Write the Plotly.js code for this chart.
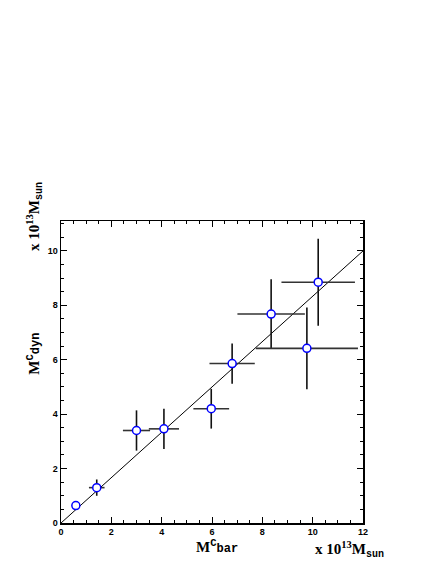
<!DOCTYPE html>
<html>
<head>
<meta charset="utf-8">
<script src="https://cdn.plot.ly/plotly-3.0.1.min.js"></script>
<style>html,body{margin:0;padding:0;background:#fff;}#chart{width:436px;height:564px;}</style>
</head>
<body>
<div id="chart"></div>
<script>
// Data (units of 10^13 M_sun)
var mBar    = [0.59, 1.42, 3.00, 4.09, 5.97, 6.80, 8.35, 9.77, 10.22];
var mBarErr = [0.00, 0.31, 0.54, 0.60, 0.71, 0.90, 1.34, 2.03, 1.46];
var mDyn    = [0.64, 1.30, 3.40, 3.46, 4.20, 5.86, 7.68, 6.42, 8.85];
var mDynErr = [0.00, 0.30, 0.74, 0.74, 0.73, 0.74, 1.28, 1.50, 1.60];
var lineX = [0, 12];
var lineY = [0, 10];

var traces = [
  {
    x: lineX, y: lineY, mode: 'lines', type: 'scatter',
    line: {color: '#000', width: 1}, hoverinfo: 'skip'
  },
  {
    x: mBar, y: mDyn, mode: 'markers', type: 'scatter',
    error_x: {type: 'data', array: mBarErr, visible: true, color: '#333', thickness: 1.6, width: 0},
    error_y: {type: 'data', array: mDynErr, visible: true, color: '#111', thickness: 1.6, width: 0},
    marker: {symbol: 'circle', size: 8, color: '#fff', line: {color: '#0000ff', width: 1.5}}
  }
];

var tickFont = {family: 'Liberation Sans, Arial, sans-serif', size: 9, color: '#000', weight: 'bold'};
var axisCommon = {
  showgrid: false, zeroline: false, showline: true, linecolor: '#000', linewidth: 1.5,
  mirror: 'allticks', ticks: 'inside', ticklen: 6, tickwidth: 1, tickcolor: '#000',
  tickfont: tickFont,
  minor: {dtick: 0.5, ticklen: 3, tickwidth: 1, tickcolor: '#000', ticks: 'inside', showgrid: false}
};

var serif = 'Liberation Serif, Times New Roman, serif';
var mono = 'Liberation Mono, Courier New, monospace';
var labFont = {family: serif, size: 15, color: '#000', weight: 'bold'};

var layout = {
  width: 436, height: 564,
  margin: {l: 61, r: 73, t: 221, b: 41, pad: 0},
  paper_bgcolor: '#fff', plot_bgcolor: '#fff',
  showlegend: false,
  xaxis: Object.assign({}, axisCommon, {range: [0, 12], dtick: 2, tick0: 0}),
  yaxis: Object.assign({}, axisCommon, {range: [0, 11.1], dtick: 2, tick0: 0}),
  annotations: [
    {
      text: '<b>M</b><sup><span style="font-family:' + mono + '">C</span></sup><span style="font-family:' + mono + ';font-size:12px">bar</span>',
      xref: 'paper', yref: 'paper', x: 0.515, y: -0.04, xanchor: 'center', yanchor: 'top',
      showarrow: false, font: labFont
    },
    {
      text: '<b>x 10</b><sup>13</sup><b>M</b><sub><span style="font-family:' + mono + ';font-size:10px">sun</span></sub>',
      xref: 'paper', yref: 'paper', x: 1.075, y: -0.045, xanchor: 'right', yanchor: 'top',
      showarrow: false, font: labFont
    },
    {
      text: '<b>M</b><sup><span style="font-family:' + mono + '">C</span></sup><span style="font-family:' + mono + ';font-size:12px">dyn</span>',
      xref: 'paper', yref: 'paper', x: -0.09, y: 0.56, xanchor: 'center', yanchor: 'middle',
      textangle: -90, showarrow: false, font: labFont
    },
    {
      text: '<b>x 10</b><sup>13</sup><b>M</b><sub><span style="font-family:' + mono + ';font-size:10px">sun</span></sub>',
      xref: 'paper', yref: 'paper', x: -0.09, y: 0.895, xanchor: 'center', yanchor: 'bottom',
      textangle: -90, showarrow: false, font: labFont
    }
  ]
};

Plotly.newPlot('chart', traces, layout, {displayModeBar: false, staticPlot: true});
</script>
</body>
</html>
